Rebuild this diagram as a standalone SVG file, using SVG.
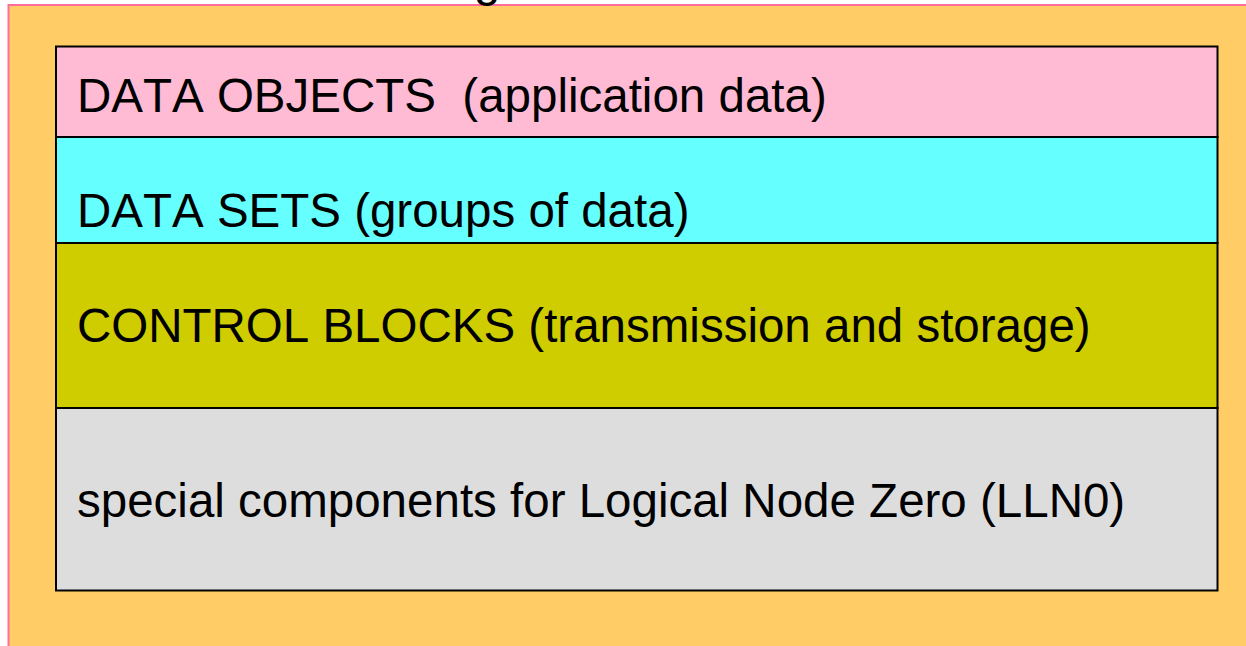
<svg xmlns="http://www.w3.org/2000/svg" width="1246" height="646" viewBox="0 0 1246 646">
<style>
.lbl{font-family:"Liberation Sans",Arial,sans-serif;font-size:47.5px;fill:#000;font-kerning:none;white-space:pre}
.band{stroke:#000;stroke-width:2}
</style>
<rect x="0" y="0" width="1246" height="646" fill="#fff"/>
<g id="frame">
<rect x="8.5" y="5" width="1250" height="660" fill="#FFCC66" stroke="#FF6E9A" stroke-width="2"/>
<text class="lbl" x="474" y="-4">g</text>
</g>
<g id="data-objects">
<rect class="band" x="56" y="46.5" width="1161.5" height="90.5" fill="#FFBBD3"/>
<text class="lbl" x="77" y="112" xml:space="preserve">DATA OBJECTS  (application data)</text>
</g>
<g id="data-sets">
<rect class="band" x="56" y="137" width="1161.5" height="106" fill="#66FFFF"/>
<text class="lbl" x="77" y="227">DATA SETS (groups of data)</text>
</g>
<g id="control-blocks">
<rect class="band" x="56" y="243" width="1161.5" height="165" fill="#CFCC00"/>
<text class="lbl" x="77" y="342">CONTROL BLOCKS (transmission and storage)</text>
</g>
<g id="lln0">
<rect class="band" x="56" y="408" width="1161.5" height="182.5" fill="#DDDDDD"/>
<text class="lbl" x="77" y="517">special components for Logical Node Zero (LLN0)</text>
</g>
<g id="connectors"/>
</svg>
